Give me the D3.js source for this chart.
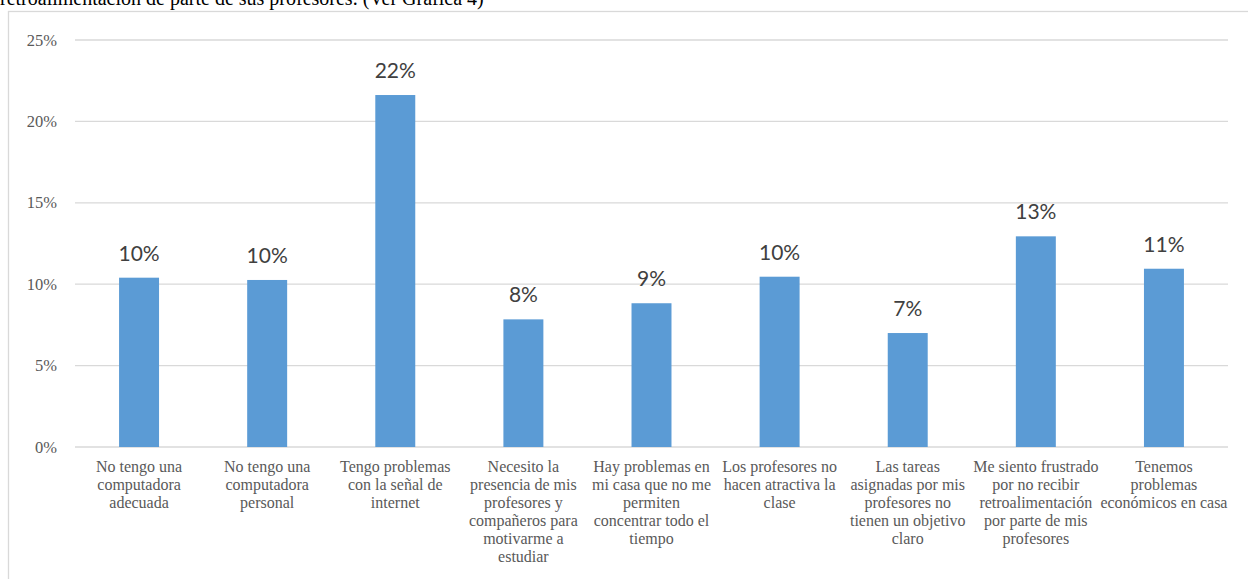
<!DOCTYPE html>
<html>
<head>
<meta charset="utf-8">
<script src="https://cdn.jsdelivr.net/npm/d3@7"></script>
<style>
html,body{margin:0;padding:0;background:#fff;overflow:hidden;}
svg{display:block;}
</style>
</head>
<body>
<svg id="chart" width="1248" height="579"></svg>
<script>
// ---- data ----
const categories = [
  "No tengo una\ncomputadora\nadecuada",
  "No tengo una\ncomputadora\npersonal",
  "Tengo problemas\ncon la señal de\ninternet",
  "Necesito la\npresencia de mis\nprofesores y\ncompañeros para\nmotivarme a\nestudiar",
  "Hay problemas en\nmi casa que no me\npermiten\nconcentrar todo el\ntiempo",
  "Los profesores no\nhacen atractiva la\nclase",
  "Las tareas\nasignadas por mis\nprofesores no\ntienen un objetivo\nclaro",
  "Me siento frustrado\npor no recibir\nretroalimentación\npor parte de mis\nprofesores",
  "Tenemos\nproblemas\neconómicos en casa"
];
const values = [0.104, 0.1026, 0.2162, 0.0784, 0.0883, 0.1046, 0.070, 0.1294, 0.1095];
const valueLabels = ["10%", "10%", "22%", "8%", "9%", "10%", "7%", "13%", "11%"];
const yTicks = [0, 0.05, 0.10, 0.15, 0.20, 0.25];
const yTickLabels = ["0%", "5%", "10%", "15%", "20%", "25%"];
const introText = "retroalimentación de parte de sus profesores. (Ver Gráfica 4)";

// ---- layout ----
const svg = d3.select("#chart");
const plot = {left: 75, right: 1228, top: 40, bottom: 447};

// intro text (partly cut off at top, as in the reference)
svg.append("text")
  .attr("x", 0).attr("y", 5)
  .attr("font-family", "'Liberation Serif', 'Times New Roman', serif")
  .attr("font-size", 20)
  .attr("fill", "#000")
  .text(introText);

// chart frame
svg.append("rect")
  .attr("x", 8.5).attr("y", 11.5)
  .attr("width", 1260).attr("height", 600)
  .attr("fill", "#fff")
  .attr("stroke", "#d9d9d9").attr("stroke-width", 1.3);

const x = d3.scaleBand()
  .domain(categories.map((c, i) => i))
  .range([plot.left, plot.right])
  .paddingInner(0.688)
  .paddingOuter(0.344);

const y = d3.scaleLinear().domain([0, 0.25]).range([plot.bottom, plot.top]);

// gridlines
svg.append("g").selectAll("line").data(yTicks).join("line")
  .attr("x1", plot.left).attr("x2", plot.right)
  .attr("y1", d => y(d)).attr("y2", d => y(d))
  .attr("stroke", "#d9d9d9").attr("stroke-width", 1.3);

// y tick labels
svg.append("g").selectAll("text").data(yTicks).join("text")
  .attr("x", 57).attr("y", d => y(d) + 5.5)
  .attr("text-anchor", "end")
  .attr("font-family", "'Liberation Serif', 'Times New Roman', serif")
  .attr("font-size", 16.5)
  .attr("fill", "#595959")
  .text((d, i) => yTickLabels[i]);

// bars
svg.append("g").selectAll("rect").data(values).join("rect")
  .attr("x", (d, i) => x(i))
  .attr("width", x.bandwidth())
  .attr("y", d => y(d))
  .attr("height", d => y(0) - y(d))
  .attr("fill", "#5b9bd5");

// value labels
svg.append("g").selectAll("text").data(values).join("text")
  .attr("x", (d, i) => x(i) + x.bandwidth() / 2)
  .attr("y", d => y(d) - 17)
  .attr("text-anchor", "middle")
  .attr("font-family", "Lato, 'Open Sans', sans-serif")
  .attr("font-size", 21)
  .attr("fill", "#404040")
  .text((d, i) => valueLabels[i]);

// category labels
const catG = svg.append("g");
categories.forEach((c, i) => {
  const t = catG.append("text")
    .attr("x", x(i) + x.bandwidth() / 2)
    .attr("y", 472)
    .attr("text-anchor", "middle")
    .attr("font-family", "'Liberation Serif', 'Times New Roman', serif")
    .attr("font-size", 16)
    .attr("fill", "#595959");
  c.split("\n").forEach((line, j) => {
    t.append("tspan")
      .attr("x", x(i) + x.bandwidth() / 2)
      .attr("dy", j === 0 ? 0 : 18)
      .text(line);
  });
});
</script>
</body>
</html>
